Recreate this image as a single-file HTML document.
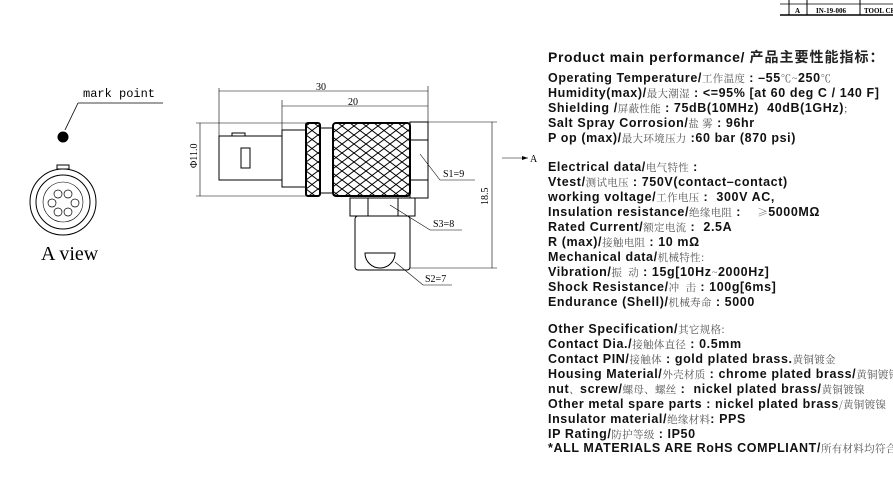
<!DOCTYPE html>
<html><head><meta charset="utf-8"><style>
body{margin:0;width:893px;height:491px;background:#fff;overflow:hidden;position:relative;font-family:"Liberation Sans","Noto Sans CJK SC",sans-serif}
.t{position:absolute;left:548px;white-space:nowrap;font-size:12.5px;font-weight:bold;color:#111;line-height:15px;letter-spacing:0.6px}
.t span{font-weight:normal;font-size:10.5px;color:#555;font-family:"Noto Serif CJK SC","Noto Sans CJK SC",serif;letter-spacing:0.3px}
svg{position:absolute;left:0;top:0}
</style></head><body>
<svg width="893" height="491" viewBox="0 0 893 491" font-family="Liberation Serif, serif">
<g stroke="#000" fill="none" stroke-width="1">
<line x1="780" y1="4" x2="893" y2="4" stroke-width="0.7"/>
<line x1="780" y1="15" x2="893" y2="15" stroke-width="1.5"/>
<line x1="789" y1="0" x2="789" y2="15"/><line x1="807" y1="0" x2="807" y2="15"/><line x1="860" y1="0" x2="860" y2="15"/>
<line x1="78" y1="103" x2="163" y2="103" stroke-width="0.8"/>
<line x1="78" y1="103" x2="65" y2="130" stroke-width="0.8"/>
<circle cx="63" cy="137" r="5" fill="#000"/>
<circle cx="63" cy="202" r="33"/><circle cx="63" cy="202" r="27"/><circle cx="63" cy="202" r="20" stroke-width="0.6"/>
<rect x="57" y="165" width="12" height="4"/>
<g stroke-width="0.7"><circle cx="58" cy="194" r="4"/><circle cx="68" cy="194" r="4"/><circle cx="52" cy="203" r="4"/><circle cx="75" cy="203" r="4"/><circle cx="58" cy="212" r="4"/><circle cx="68" cy="212" r="4"/></g>
<g stroke-width="0.6">
<line x1="219" y1="91" x2="428" y2="91"/><line x1="282" y1="106" x2="428" y2="106"/>
<line x1="219" y1="88" x2="219" y2="136"/><line x1="282" y1="100" x2="282" y2="130"/><line x1="428" y1="86" x2="428" y2="122"/>
<line x1="200" y1="123" x2="200" y2="196"/><line x1="196" y1="123" x2="306" y2="123"/><line x1="196" y1="196" x2="306" y2="196"/>
<line x1="428" y1="122" x2="497" y2="122"/><line x1="410" y1="268" x2="497" y2="268"/><line x1="492" y1="122" x2="492" y2="268"/>
<line x1="502" y1="158" x2="528" y2="158"/>
<polyline points="420,154 440,180 475,180"/><polyline points="390,205 430,230 462,230"/><polyline points="395,262 423,285 452,285"/>
</g>
<rect x="219" y="136" width="63" height="44"/><rect x="241" y="148" width="9" height="20"/><rect x="232" y="133" width="13" height="3"/>
<rect x="282" y="130" width="24" height="57"/>
<rect x="306" y="123" width="14" height="73" rx="2" stroke-width="2"/>
<line x1="320" y1="128" x2="333" y2="128"/><line x1="320" y1="193" x2="333" y2="193"/>
<rect x="333" y="123" width="77" height="73" rx="3" stroke-width="2"/>
<rect x="410" y="122" width="18" height="76"/><line x1="410" y1="140" x2="428" y2="140"/><line x1="410" y1="180" x2="428" y2="180"/>
<rect x="350" y="198" width="65" height="18"/><line x1="368" y1="198" x2="368" y2="216"/><line x1="398" y1="198" x2="398" y2="216"/>
<rect x="355" y="216" width="55" height="54" rx="3"/>
<path d="M365 253 L395 253 A15 15 0 0 1 365 253 Z"/>
</g>
<defs><pattern id="k" width="12" height="9" patternUnits="userSpaceOnUse"><path d="M0 4.5 L6 0 L12 4.5 L6 9 Z" fill="none" stroke="#000" stroke-width="1"/></pattern></defs>
<rect x="334" y="124" width="75" height="71" fill="url(#k)"/>
<rect x="307" y="124" width="12" height="71" fill="url(#k)"/>
<polygon points="528,158 522,156 522,160" fill="#000"/>
<g font-size="10" fill="#000">
<text x="316" y="90">30</text><text x="348" y="105">20</text>
<text x="530" y="162">A</text>
<text x="443" y="177">S1=9</text><text x="433" y="227">S3=8</text><text x="425" y="282">S2=7</text>
<text transform="translate(197,168) rotate(-90)">Φ11.0</text>
<text transform="translate(488,205) rotate(-90)">18.5</text>
<text x="83" y="97" font-family="Liberation Mono, monospace" font-size="12">mark point</text>
<text x="41" y="260" font-size="20">A view</text>
<text x="795" y="13" font-size="7" font-weight="bold">A</text>
<text x="816" y="13" font-size="7" font-weight="bold">IN-19-006</text>
<text x="864" y="13" font-size="7" font-weight="bold">TOOL CH</text>
</g>
</svg>
<div class="t" style="top:50px;font-size:14px">Product main performance/ <span style="font-size:14px;color:#222;font-weight:bold;font-family:'Noto Sans CJK SC',sans-serif;letter-spacing:1px">产品主要性能指标：</span></div>
<div class="t" style="top:71px">Operating Temperature/<span>工作温度</span> : –55<span>℃~</span>250<span>℃</span></div>
<div class="t" style="top:86px">Humidity(max)/<span>最大潮湿</span> : &lt;=95% [at 60 deg C / 140 F]</div>
<div class="t" style="top:101px">Shielding /<span>屏蔽性能</span> : 75dB(10MHz) &nbsp;40dB(1GHz)<span>;</span></div>
<div class="t" style="top:116px">Salt Spray Corrosion/<span>盐 雾</span> : 96hr</div>
<div class="t" style="top:131px">P op (max)/<span>最大环境压力</span> :60 bar (870 psi)</div>
<div class="t" style="top:160px">Electrical data/<span>电气特性</span> :</div>
<div class="t" style="top:175px">Vtest/<span>测试电压</span> : 750V(contact–contact)</div>
<div class="t" style="top:190px">working voltage/<span>工作电压</span> : &nbsp;300V AC,</div>
<div class="t" style="top:205px">Insulation resistance/<span>绝缘电阻</span> : &nbsp;&nbsp;&nbsp;<span>≥</span>5000MΩ</div>
<div class="t" style="top:220px">Rated Current/<span>额定电流</span> : &nbsp;2.5A</div>
<div class="t" style="top:235px">R (max)/<span>接触电阻</span> : 10 mΩ</div>
<div class="t" style="top:250px">Mechanical data/<span>机械特性:</span></div>
<div class="t" style="top:265px">Vibration/<span>振 &nbsp;动</span> : 15g[10Hz<span>~</span>2000Hz]</div>
<div class="t" style="top:280px">Shock Resistance/<span>冲 &nbsp;击</span> : 100g[6ms]</div>
<div class="t" style="top:295px">Endurance (Shell)/<span>机械寿命</span> : 5000</div>
<div class="t" style="top:322px">Other Specification/<span>其它规格:</span></div>
<div class="t" style="top:337px">Contact Dia./<span>接触体直径</span> : 0.5mm</div>
<div class="t" style="top:352px">Contact PIN/<span>接触体</span> : gold plated brass.<span>黄铜镀金</span></div>
<div class="t" style="top:367px">Housing Material/<span>外壳材质</span> : chrome plated brass/<span>黄铜镀铬</span></div>
<div class="t" style="top:382px">nut<span>、</span>screw/<span>螺母、螺丝</span> : &nbsp;nickel plated brass/<span>黄铜镀镍</span></div>
<div class="t" style="top:397px">Other metal spare parts : nickel plated brass<span>/黄铜镀镍</span></div>
<div class="t" style="top:412px">Insulator material/<span>绝缘材料</span>: PPS</div>
<div class="t" style="top:427px">IP Rating/<span>防护等级</span> : IP50</div>
<div class="t" style="top:441px">*ALL MATERIALS ARE RoHS COMPLIANT/<span>所有材料均符合</span>RoHS<span>要求</span></div>
</body></html>
